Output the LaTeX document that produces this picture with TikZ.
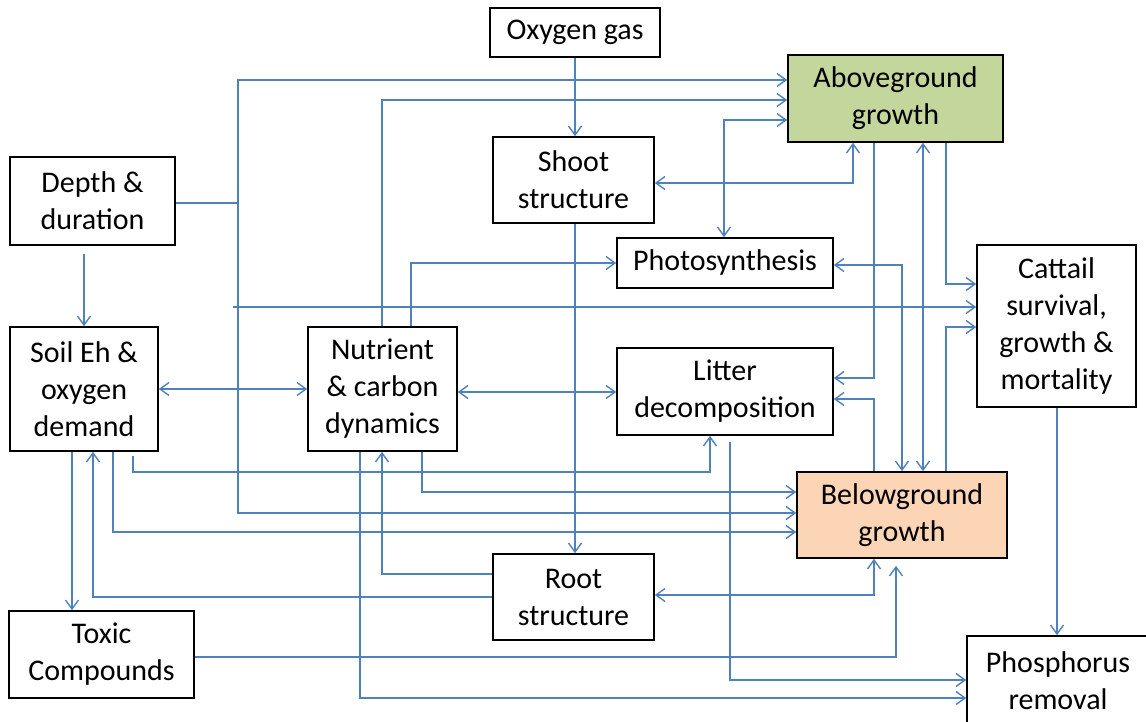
\documentclass[tikz,border=0pt]{standalone}
\usepackage{fontspec}
\setmainfont{Carlito}
\usetikzlibrary{arrows.meta}
\definecolor{linkblue}{RGB}{79,129,189}
\definecolor{abovegreen}{RGB}{195,214,155}
\definecolor{belowpeach}{RGB}{251,213,181}
\begin{document}
\begin{tikzpicture}[x=1pt,y=-1pt,
  >={Straight Barb[length=9pt,width=13pt]},
  box/.style={draw=black,line width=1.6pt,fill=white,align=center,inner sep=0pt,
    font=\fontsize{30pt}{37pt}\selectfont},
  conn/.style={draw=linkblue,line width=1.4pt},
  arr/.style={conn,->},
  darr/.style={conn,<->}]
\useasboundingbox (0,0) rectangle (1146,722);

% boxes
\node[box,minimum width=170pt,minimum height=49pt] (oxy) at (575,32.5) {Oxygen gas};
\node[box,minimum width=161pt,minimum height=86pt] (shoot) at (573.5,180) {Shoot\\structure};
\node[box,fill=abovegreen,minimum width=215pt,minimum height=87pt] (above) at (895.5,98.5) {Aboveground\\growth};
\node[box,minimum width=165pt,minimum height=88pt] (depth) at (92.5,201) {Depth \&\\duration};
\node[box,minimum width=216pt,minimum height=50pt] (photo) at (725,263) {Photosynthesis};
\node[box,minimum width=159pt,minimum height=162pt] (cattail) at (1056.5,326) {Cattail\\survival,\\growth \&\\mortality};
\node[box,minimum width=148pt,minimum height=124pt] (soil) at (84,389) {Soil Eh \&\\oxygen\\demand};
\node[box,minimum width=149pt,minimum height=124pt] (nut) at (382.5,389) {Nutrient\\\& carbon\\dynamics};
\node[box,minimum width=216pt,minimum height=87pt] (litter) at (725,391.5) {Litter\\decomposition};
\node[box,fill=belowpeach,minimum width=210pt,minimum height=86pt] (below) at (902,515) {Belowground\\growth};
\node[box,minimum width=161pt,minimum height=86pt] (root) at (573.5,597) {Root\\structure};
\node[box,minimum width=185pt,minimum height=87pt] (toxic) at (101.5,654.5) {Toxic\\Compounds};
\node[box,minimum width=182pt,minimum height=89pt] (phos) at (1058,680.5) {Phosphorus\\removal};

% depth & duration feeding the vertical bus
\draw[conn] ([yshift=-2pt]depth.east) -- ++(62,0) coordinate (dbus);
\draw[arr] (dbus) |- ([yshift=18.5pt]above.west);
\draw[arr] (dbus) |- ([yshift=2pt]below.west);
\coordinate (dcat) at (233,307);
\draw[arr] (dcat) -- ([yshift=19pt]cattail.west);
\draw[arr,shorten <=8pt] (soil.north |- depth.south) -- (soil.north);

% oxygen and shoot
\draw[arr] (oxy.south) -- (oxy.south |- shoot.north);
\draw[arr] ([xshift=1.5pt]shoot.south) -- ([xshift=1.5pt]root.north);
\draw[darr] ([yshift=-3pt]shoot.east) -| ([xshift=-42.5pt]above.south);

% nutrient & carbon dynamics
\draw[arr] ([xshift=-0.5pt]nut.north) |- ([yshift=-1.5pt]above.west);
\draw[arr] ([xshift=28.5pt]nut.north) |- (photo.west);
\draw[darr] (soil.east) -- (nut.west);
\draw[darr] ([yshift=-0.5pt]nut.east |- litter.west) -- ([yshift=-0.5pt]litter.west);
\draw[arr] ([xshift=39.5pt]nut.south) |- ([yshift=23pt]below.west);
\draw[arr] ([xshift=-22.5pt]nut.south) |- ([yshift=-17.5pt]phos.west);

% aboveground growth
\draw[darr] ([yshift=-21.5pt]above.west) -| ([xshift=-1pt]photo.north);
\draw[arr] ([xshift=-21.5pt]above.south) |- ([yshift=13.5pt]litter.east);
\draw[darr] ([xshift=27.5pt]above.south) -- ([xshift=27.5pt]above.south |- below.north);
\draw[arr] ([xshift=50.5pt]above.south) |- ([yshift=42pt]cattail.west);

% belowground growth
\draw[arr] ([xshift=-28pt]below.north) |- ([yshift=-7.5pt]litter.east);
\draw[darr] ([yshift=-2pt]photo.east) -| (below.north);
\draw[arr] ([xshift=44pt]below.north) |- ([yshift=-1pt]cattail.west);
\draw[darr] ([yshift=2pt]root.east) -| ([xshift=-28pt]below.south);
\draw[arr,shorten >=7pt] ([yshift=-2.5pt]toxic.east) -| ([xshift=-6pt]below.south);

% cattail and litter to phosphorus removal
\draw[arr] ([xshift=0.5pt]cattail.south) -- ([xshift=0.5pt]cattail.south |- phos.north);
\draw[arr,shorten <=6pt] ([xshift=5pt]litter.south) |- ([yshift=0.5pt]phos.west);

% root structure
\draw[arr] ([yshift=23pt]root.west) -| ([xshift=-0.5pt]nut.south);
\draw[arr] (root.west) -| ([xshift=9pt]soil.south);

% soil Eh & oxygen demand
\draw[arr] ([xshift=-12pt]soil.south) -- ([xshift=-12pt]soil.south |- toxic.north);
\draw[arr,shorten <=4pt] ([xshift=49pt]soil.south) -- ++(0,20) -| ([xshift=-15pt]litter.south);
\draw[arr] ([xshift=29pt]soil.south) |- ([yshift=-17pt]below.west);
\end{tikzpicture}
\end{document}
